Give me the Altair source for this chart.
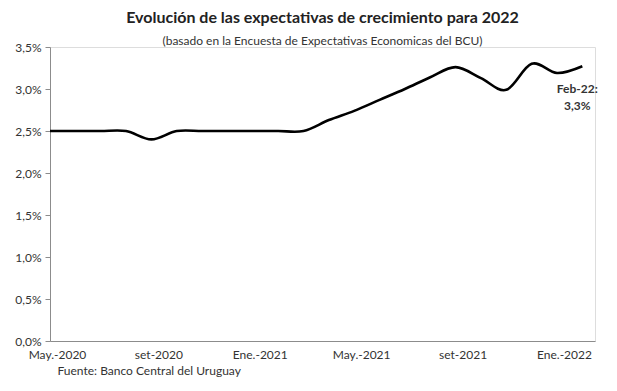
import altair as alt
import pandas as pd

# Monthly survey index (0 = May 2020 ... 21 = Feb 2022)
month_idx = list(range(22))
growth = [2.5, 2.5, 2.5, 2.5, 2.4, 2.5, 2.5, 2.5, 2.5, 2.5, 2.5,
          2.63, 2.74, 2.87, 3.0, 3.14, 3.26, 3.13, 2.99, 3.30, 3.19, 3.27]

x_tick_idx = [0, 4, 8, 12, 16, 20]
x_tick_labels = ["May.-2020", "set-2020", "Ene.-2021", "May.-2021", "set-2021", "Ene.-2022"]
y_ticks = [0, 0.5, 1.0, 1.5, 2.0, 2.5, 3.0, 3.5]

annot_text = ["Feb-22:", "3,3%"]

df = pd.DataFrame({"idx": month_idx, "val": growth})
df_annot = pd.DataFrame({"idx": [month_idx[-1]], "val": [growth[-1]], "txt": [annot_text]})

label_map = "{" + ",".join(f"'{i}':'{l}'" for i, l in zip(x_tick_idx, x_tick_labels)) + "}"

FONT = "Lato"

x_enc = alt.X(
    "idx:Q",
    scale=alt.Scale(domain=[0, 21.5], nice=False, zero=False),
    axis=alt.Axis(
        values=x_tick_idx,
        labelExpr=f"{label_map}[toString(datum.value)]",
        labelFlush=False,
        labelOffset=7,
        ticks=False,
        tickSize=0,
        grid=False,
        domainColor="#8c8c8c",
        labelPadding=8,
        labelFontSize=12,
        labelColor="#333333",
        labelFont=FONT,
        title="Fuente: Banco Central del Uruguay",
        titleFont=FONT,
        titleFontSize=12,
        titleFontWeight="normal",
        titleColor="#333333",
        titleAnchor="start",
        titleAlign="left",
        titleBaseline="alphabetic",
        titleX=7,
        titleY=33,
    ),
)

y_enc = alt.Y(
    "val:Q",
    scale=alt.Scale(domain=[0, 3.5], nice=False),
    axis=alt.Axis(
        values=y_ticks,
        labelExpr="replace(format(datum.value, '.1f'), '.', ',') + '%'",
        grid=False,
        domainColor="#8c8c8c",
        tickColor="#8c8c8c",
        tickSize=5,
        labelPadding=4,
        labelFontSize=12,
        labelColor="#333333",
        labelFont=FONT,
        title=None,
    ),
)

line = alt.Chart(df).mark_line(
    color="black", strokeWidth=2.6, interpolate="cardinal"
).encode(x=x_enc, y=y_enc)

annot = alt.Chart(df_annot).mark_text(
    font=FONT, fontSize=12, fontWeight="bold", color="#333333",
    align="center", baseline="top", dx=-5, dy=18, lineHeight=17,
).encode(x="idx:Q", y="val:Q", text="txt")

chart = alt.layer(line, annot).properties(
    width=545,
    height=294,
    autosize=alt.AutoSizeParams(type="none"),
    padding={"left": 42, "top": 39, "right": 14, "bottom": 40},
    title=alt.Title(
        "Evolución de las expectativas de crecimiento para 2022",
        subtitle="(basado en la Encuesta de Expectativas Economicas del BCU)",
        font=FONT,
        fontSize=16,
        fontWeight="bold",
        color="#222222",
        subtitleFont=FONT,
        subtitleFontSize=12,
        subtitleColor="#333333",
        subtitlePadding=10,
        offset=-6,
        anchor="middle",
    ),
).configure_view(stroke=None).configure(background="white")

chart.save("out.html", embed_options={"renderer": "svg", "actions": False})
